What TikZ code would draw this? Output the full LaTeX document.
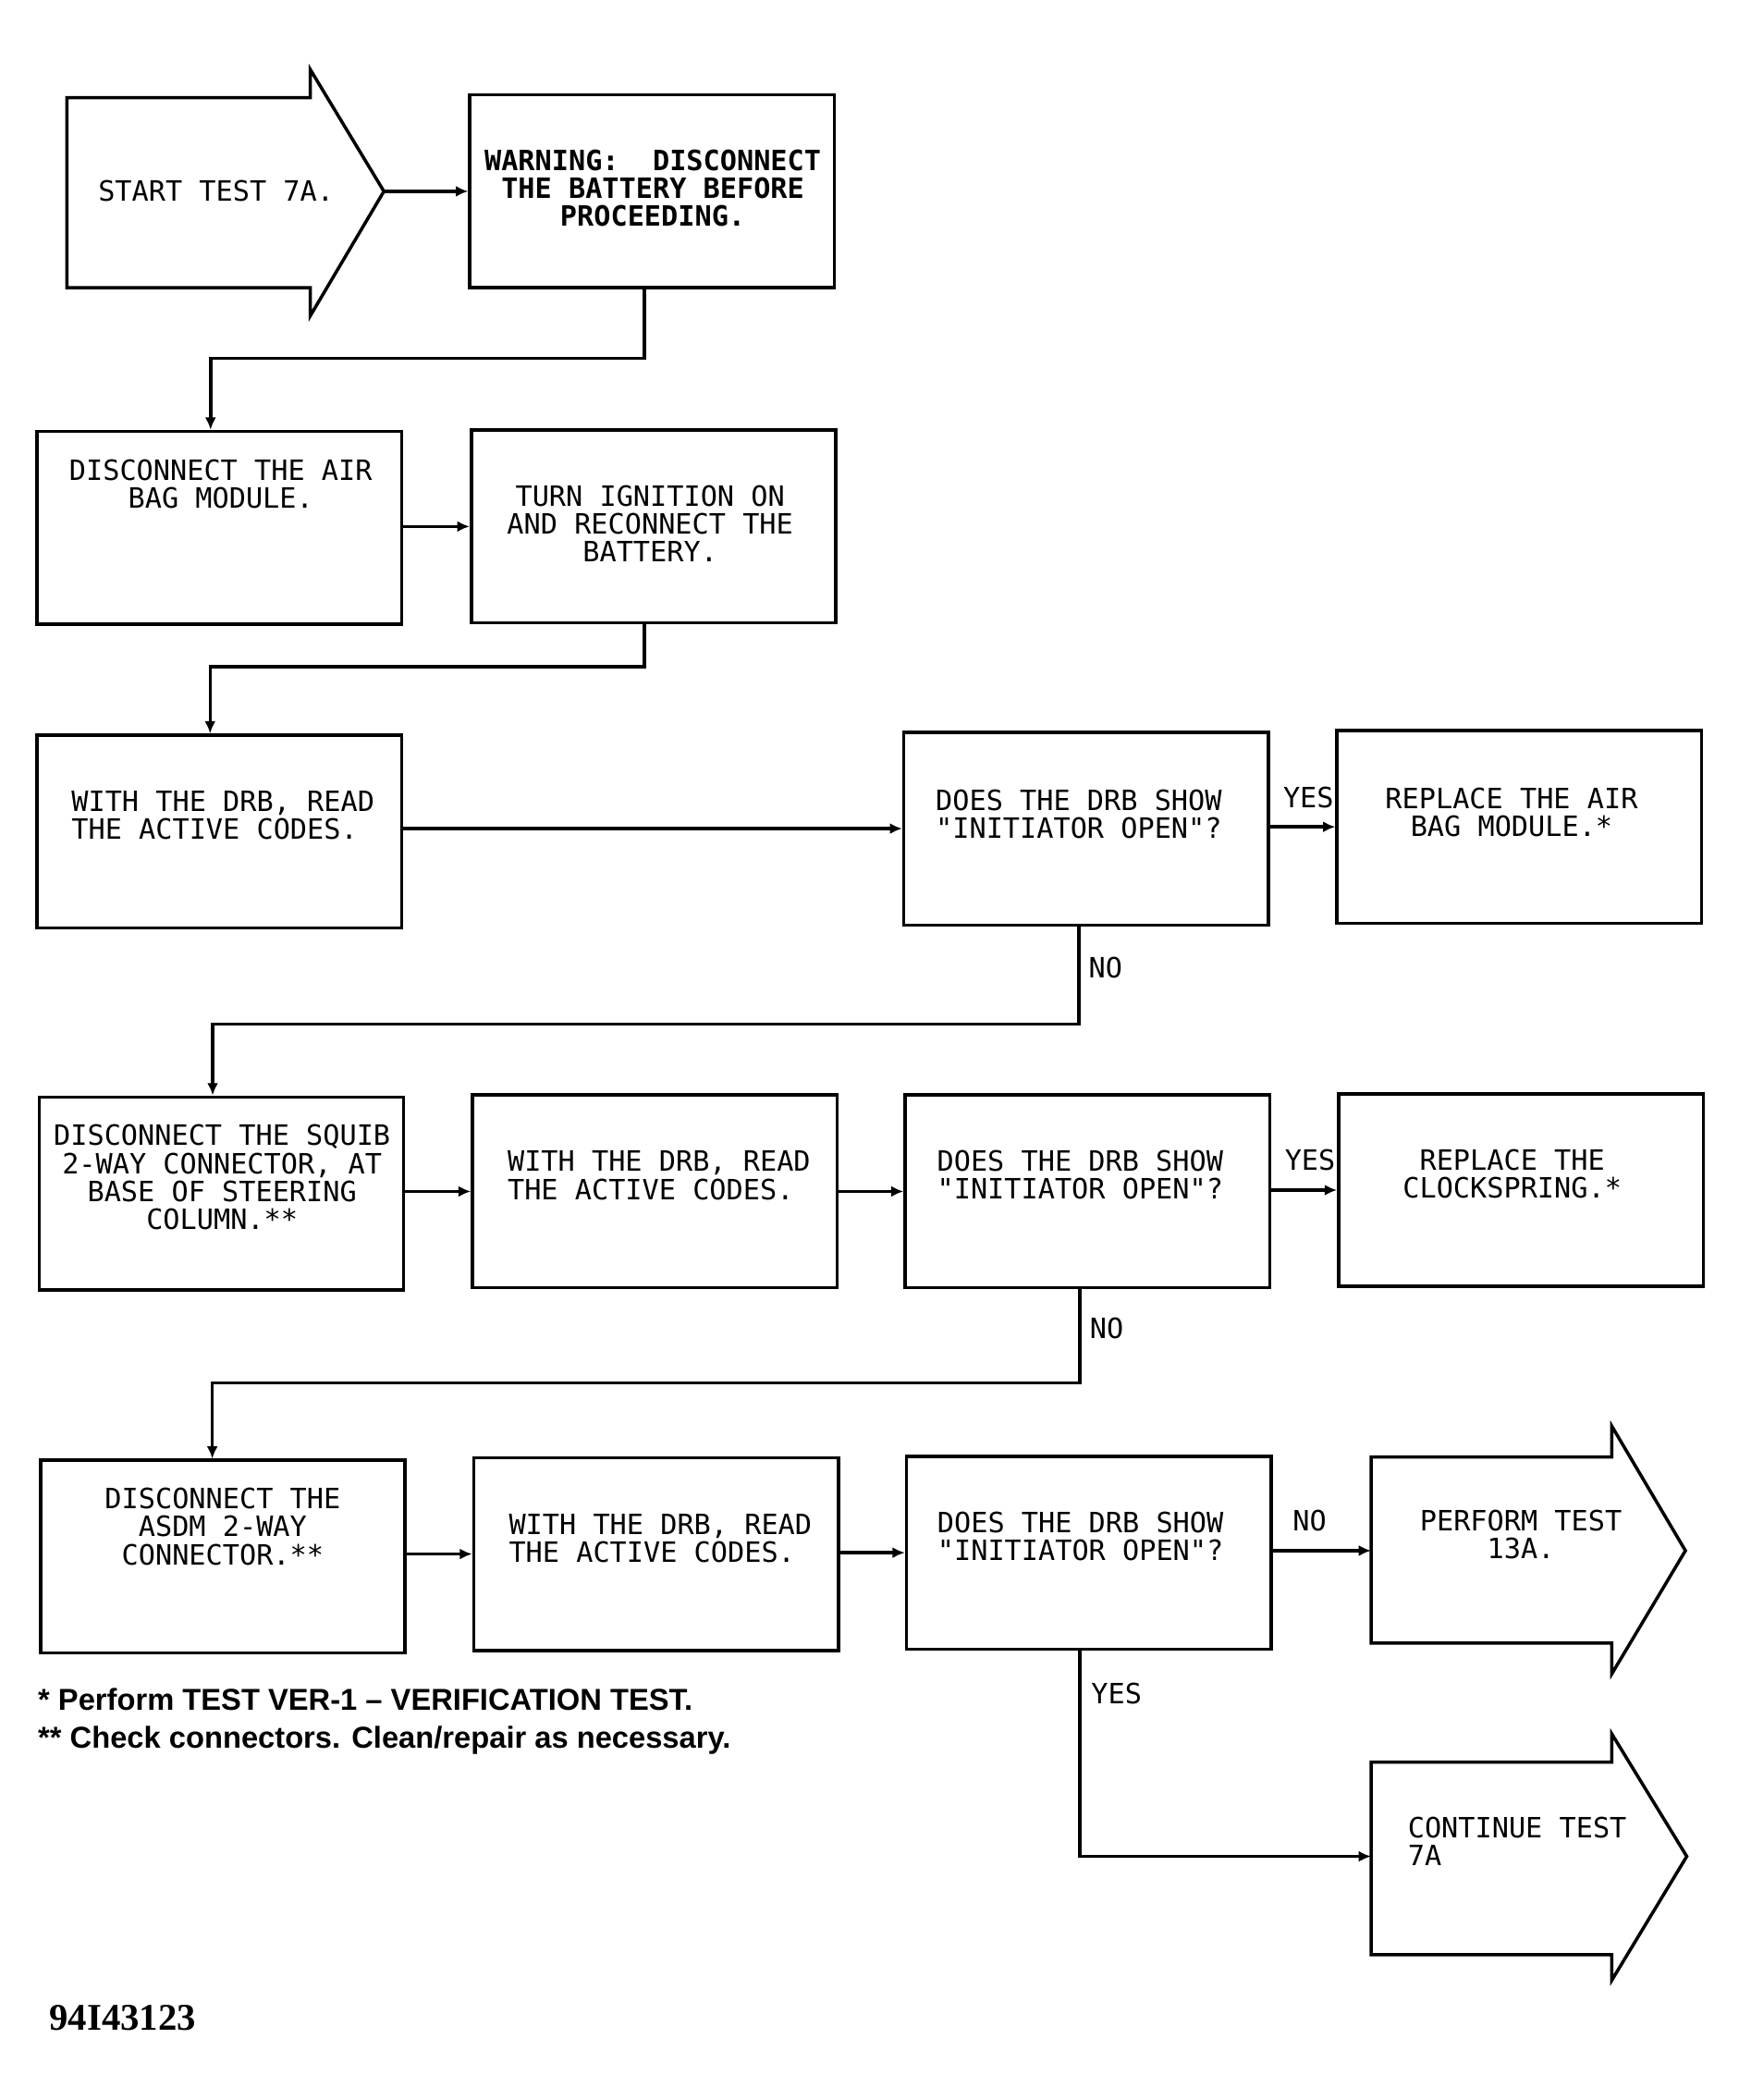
\documentclass[tikz,border=0pt]{standalone}
\usepackage{fontspec}
\setmainfont{Liberation Serif}
\setsansfont{Liberation Sans}
\setmonofont{DejaVu Sans Mono}
\usetikzlibrary{arrows.meta}

\tikzset{
    box/.style={draw, line width=1pt, minimum width=3.943cm, minimum height=2.084cm},
    conn/.style={line width=1pt, -{Latex[length=3.8pt,width=3.4pt]}},
    outline/.style={line width=1pt, line join=miter},
    txt/.style={font=\ttfamily\fontsize{8.6}{8.6}\selectfont, align=center, inner sep=0pt},
    txtb/.style={txt, font=\ttfamily\bfseries\fontsize{8.6}{8.6}\selectfont},
    lab/.style={font=\ttfamily\fontsize{8.6}{8.6}\selectfont, inner sep=0pt},
    note/.style={font=\sffamily\bfseries\fontsize{9.3}{11}\selectfont, inner sep=0pt, anchor=base west},
    tag/.style={font=\rmfamily\bfseries\fontsize{11.6}{13}\selectfont, inner sep=0pt, anchor=base west}
}

\begin{document}
\begin{tikzpicture}[x=0.014469cm, y=-0.014469cm]
        \useasboundingbox (0,0) rectangle (1300,1569.6);

        \draw[outline] (50,73) -- (232,73) -- (232,52) -- (287,143) -- (232,236) -- (232,215) -- (50,215) -- cycle;
        \coordinate (A) at (287,143);
        \node[txt] (At) at (161.5,143) {START TEST 7A.};

        \draw[outline] (1025,1089) -- (1205,1089) -- (1205,1066) -- (1260,1159) -- (1205,1251) -- (1205,1228) -- (1025,1228) -- cycle;
        \coordinate (O) at (1025,1159);
        \node[txt] (Ot) at (1137,1147) {PERFORM TEST\\13A.};

        \draw[outline] (1025,1317) -- (1205,1317) -- (1205,1296) -- (1261,1387.5) -- (1205,1480) -- (1205,1461) -- (1025,1461) -- cycle;
        \coordinate (P) at (1025,1387.5);
        \node[txt, align=left, anchor=west] (Pt) at (1052,1376.5) {CONTINUE TEST\\7A};

        \node[box] (B) at (487.5,143) {};
        \node[box] (C) at (164,394.5) {};
        \node[box] (D) at (488.6,393.5) {};
        \node[box] (E) at (164,621.5) {};
        \node[box] (F) at (812,619.3) {};
        \node[box] (G) at (1135.8,618) {};
        \node[box] (H) at (165.5,892) {};
        \node[box] (I) at (489.5,890.5) {};
        \node[box] (J) at (813,890.5) {};
        \node[box] (K) at (1137,889.5) {};
        \node[box] (L) at (166.6,1163.5) {};
        \node[box] (M) at (490.5,1161.5) {};
        \node[box] (N) at (814,1160.5) {};

        \node[txtb] (Bt) at (488,140.5) {WARNING:\ \ DISCONNECT\\THE BATTERY BEFORE\\PROCEEDING.};
        \node[txt] (Ct) at (165,362) {DISCONNECT THE AIR\\BAG MODULE.};
        \node[txt] (Dt) at (486,391.5) {TURN IGNITION ON\\AND RECONNECT THE\\BATTERY.};
        \node[txt, align=left, anchor=west] (Et) at (53,609.5) {WITH THE DRB, READ\\THE ACTIVE CODES.};
        \node[txt] (Ft) at (806.5,608.5) {DOES THE DRB SHOW\\"INITIATOR OPEN"?};
        \node[txt] (Gt) at (1130,607) {REPLACE THE AIR\\BAG MODULE.*};
        \node[txt] (Ht) at (166,880) {DISCONNECT THE SQUIB\\2-WAY CONNECTOR, AT\\BASE OF STEERING\\COLUMN.**};
        \node[txt, align=left, anchor=west] (It) at (379,878.5) {WITH THE DRB, READ\\THE ACTIVE CODES.};
        \node[txt] (Jt) at (807.5,878) {DOES THE DRB SHOW\\"INITIATOR OPEN"?};
        \node[txt] (Kt) at (1130.5,877.6) {REPLACE THE\\CLOCKSPRING.*};
        \node[txt] (Lt) at (166.5,1141) {DISCONNECT THE\\ASDM 2-WAY\\CONNECTOR.**};
        \node[txt, align=left, anchor=west] (Mt) at (380,1150) {WITH THE DRB, READ\\THE ACTIVE CODES.};
        \node[txt] (Nt) at (807.7,1148.5) {DOES THE DRB SHOW\\"INITIATOR OPEN"?};

        \draw[conn] (A) -- (A -| B.west);
        \draw[conn] ([xshift=-0.082cm]B.south) -- ++(0,51.5) -| ([xshift=-0.095cm]C.north);
        \draw[conn] (C.east |- D.west) -- (D.west);
        \draw[conn] ([xshift=-0.098cm]D.south) -- ++(0,31.5) -| ([xshift=-0.1cm]E.north);
        \draw[conn] (E.east |- F.west) -- (F.west);
        \draw[conn] (F.east |- G.west) -- node[lab, pos=1, anchor=south east, inner ysep=5.4pt] (Fy) {YES} (G.west);
        \draw[conn] ([xshift=-0.081cm]F.south) -- node[lab, pos=0.42, anchor=west, inner xsep=2.6pt] (Fn) {NO} ++(0,73) -| ([xshift=-0.094cm]H.north);
        \draw[conn] (H.east |- I.west) -- (I.west);
        \draw[conn] (I.east |- J.west) -- (J.west);
        \draw[conn] (J.east |- K.west) -- node[lab, pos=1, anchor=south east, inner ysep=5.4pt] (Jy) {YES} (K.west);
        \draw[conn] ([xshift=-0.084cm]J.south) -- node[lab, pos=0.42, anchor=west, inner xsep=2.6pt] (Jn) {NO} ++(0,70) -| ([xshift=-0.114cm]L.north);
        \draw[conn] (L.east |- M.west) -- (M.west);
        \draw[conn] (M.east |- N.west) -- (N.west);
        \draw[conn] (N.east |- O) -- node[lab, pos=0, anchor=south west, inner xsep=0.2cm, inner ysep=5.4pt] (Nn) {NO} (O);
        \draw[conn] ([xshift=-0.097cm]N.south) |- node[lab, pos=0.105, anchor=west, inner xsep=3pt] (Ny) {YES} (P);

        \node[note] (Fa) at (28,1278.5) {* Perform TEST VER-1 – VERIFICATION TEST.};
        \node[note] (Fb) at (28,1306.8) {** Check connectors. Clean/repair as necessary.};
        \node[tag] (Id) at (36.5,1517.4) {94I43123};
    \end{tikzpicture}
\end{document}
